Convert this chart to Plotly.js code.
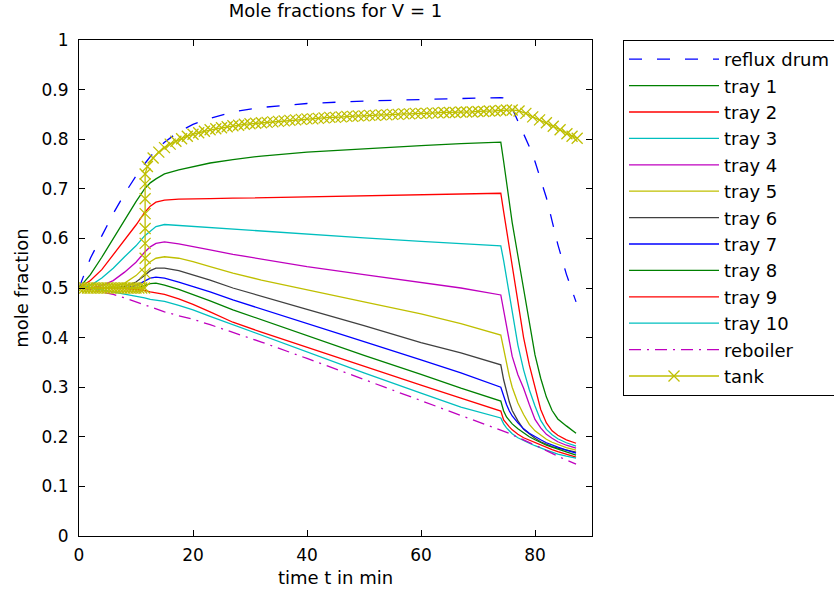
<!DOCTYPE html>
<html><head><meta charset="utf-8">
<script src="https://cdn.plot.ly/plotly-3.0.1.min.js"></script>
<style>html,body{margin:0;padding:0;background:#fff}</style>
</head><body><div id="chart" style="width:834px;height:596px"></div>
<script>
// shared time grid (min) for column series
const time = [0,2,4,6,8,10,11.5,12.5,13.5,15,17.5,20,23,27,32,40,50,60,67,74,74.5,75,75.5,76,77,78,79,80,81,82,83,84,85.5,87.2];
const refluxDrum = [0.5,0.56,0.605,0.65,0.69,0.726,0.75,0.765,0.777,0.794,0.815,0.83,0.842,0.855,0.864,0.872,0.877,0.88,0.883,0.884,0.883,0.88,0.875,0.862,0.838,0.813,0.785,0.755,0.718,0.682,0.635,0.588,0.528,0.472];
const tray1 = [0.5,0.527,0.562,0.6,0.637,0.674,0.7,0.712,0.72,0.73,0.738,0.745,0.752,0.759,0.766,0.774,0.781,0.787,0.791,0.794,0.755,0.715,0.675,0.632,0.565,0.5,0.43,0.365,0.318,0.28,0.253,0.236,0.222,0.207];
const tray2 = [0.5,0.515,0.537,0.567,0.597,0.627,0.652,0.665,0.673,0.677,0.679,0.68,0.68,0.681,0.682,0.684,0.687,0.689,0.69,0.691,0.654,0.617,0.58,0.545,0.47,0.4,0.345,0.3,0.255,0.228,0.212,0.203,0.194,0.187];
const tray3 = [0.5,0.505,0.52,0.54,0.563,0.585,0.605,0.615,0.624,0.628,0.626,0.624,0.622,0.619,0.615,0.608,0.601,0.594,0.589,0.585,0.555,0.522,0.487,0.452,0.385,0.335,0.295,0.262,0.233,0.215,0.204,0.196,0.188,0.181];
const tray4 = [0.5,0.5,0.505,0.515,0.532,0.552,0.572,0.583,0.59,0.593,0.589,0.583,0.577,0.568,0.558,0.543,0.527,0.512,0.5,0.486,0.455,0.42,0.39,0.362,0.325,0.298,0.265,0.235,0.218,0.205,0.197,0.19,0.183,0.177];
const tray5 = [0.5,0.5,0.5,0.503,0.51,0.525,0.543,0.553,0.56,0.563,0.56,0.553,0.543,0.53,0.516,0.496,0.472,0.448,0.428,0.405,0.375,0.345,0.322,0.3,0.268,0.245,0.225,0.212,0.203,0.195,0.189,0.184,0.178,0.173];
const tray6 = [0.5,0.5,0.5,0.5,0.503,0.512,0.525,0.535,0.54,0.54,0.535,0.527,0.516,0.5,0.484,0.457,0.424,0.39,0.369,0.345,0.315,0.29,0.27,0.253,0.232,0.215,0.205,0.197,0.19,0.185,0.18,0.177,0.173,0.169];
const tray7 = [0.5,0.5,0.5,0.5,0.5,0.505,0.513,0.52,0.522,0.52,0.512,0.503,0.492,0.476,0.458,0.428,0.392,0.355,0.329,0.3,0.282,0.265,0.252,0.242,0.228,0.216,0.207,0.2,0.194,0.188,0.183,0.179,0.173,0.167];
const tray8 = [0.5,0.5,0.5,0.5,0.5,0.5,0.505,0.509,0.51,0.506,0.497,0.487,0.474,0.456,0.436,0.404,0.364,0.326,0.298,0.272,0.252,0.24,0.233,0.226,0.216,0.208,0.2,0.194,0.188,0.183,0.179,0.175,0.169,0.163];
const tray9 = [0.5,0.5,0.5,0.5,0.499,0.497,0.495,0.492,0.49,0.487,0.478,0.467,0.452,0.431,0.411,0.38,0.342,0.304,0.278,0.252,0.234,0.226,0.22,0.214,0.205,0.198,0.193,0.188,0.183,0.178,0.174,0.17,0.165,0.159];
const tray10 = [0.5,0.499,0.496,0.492,0.488,0.484,0.48,0.477,0.475,0.473,0.465,0.456,0.443,0.426,0.405,0.371,0.329,0.288,0.26,0.238,0.226,0.218,0.212,0.206,0.198,0.192,0.187,0.182,0.177,0.173,0.169,0.165,0.161,0.157];
const reboiler = [0.5,0.497,0.492,0.487,0.48,0.472,0.466,0.462,0.458,0.452,0.444,0.437,0.426,0.411,0.391,0.358,0.316,0.273,0.243,0.214,0.212,0.209,0.207,0.204,0.199,0.194,0.189,0.184,0.178,0.172,0.166,0.161,0.153,0.145];

// tank (own, denser time grid)
const tankTime = [0,0.5,1,1.5,2,2.5,3,3.5,4,4.5,5,5.5,6,6.5,7,7.5,8,8.5,9,9.5,10,10.5,11,11.5,
  11.6,11.6,11.6,11.6,11.6,11.6,11.6,11.6,
  12,13,14,15,16,17,18,19,20,21,22,23,24,25,26,27,28,29,30,31,32,33,34,35,36,37,38,39,40,41,42,43,
  44,45,46,47,48,49,50,51,52,53,54,55,56,57,58,59,60,61,62,63,64,65,66,67,68,69,70,71,72,73,74,
  75,76,77.2,78.4,79.6,80.8,82,83.2,84.4,85.6,86.5,87.4];
const tankValue = [0.5,0.5,0.5,0.5,0.5,0.5,0.5,0.5,0.5,0.5,0.5,0.5,0.5,0.5,0.5,0.5,0.5,0.5,0.5,0.5,0.5,0.5,0.5,0.5,
  0.53,0.56,0.59,0.62,0.65,0.68,0.71,0.73,
  0.745,0.762,0.774,0.783,0.79,0.796,0.801,0.806,0.81,0.813,0.816,0.819,0.821,0.823,0.825,0.827,0.828,0.83,0.831,0.832,0.833,0.834,0.835,0.836,0.837,0.838,0.839,0.84,0.841,0.841,0.842,0.843,
  0.844,0.844,0.845,0.846,0.846,0.847,0.847,0.848,0.848,0.849,0.849,0.85,0.85,0.851,0.851,0.852,0.852,0.852,0.853,0.853,0.854,0.854,0.854,0.855,0.855,0.855,0.856,0.856,0.857,0.857,0.858,
  0.859,0.859,0.857,0.852,0.845,0.839,0.833,0.826,0.819,0.811,0.806,0.802];

const seriesNames = ['reflux drum','tray 1','tray 2','tray 3','tray 4','tray 5','tray 6','tray 7','tray 8','tray 9','tray 10','reboiler'];
const seriesData = [refluxDrum,tray1,tray2,tray3,tray4,tray5,tray6,tray7,tray8,tray9,tray10,reboiler];
const colors = ['#0000ff','#008000','#ff0000','#00bfbf','#bf00bf','#bfbf00','#404040','#0000ff','#008000','#ff0000','#00bfbf','#bf00bf'];
const dashes = ['13px,15px','solid','solid','solid','solid','solid','solid','solid','solid','solid','solid','12px,6px,2px,6px'];

const traces = seriesData.map((y,i)=>({
  x: time, y: y, name: seriesNames[i], type:'scatter', mode:'lines',
  line:{color:colors[i], width:1.3, dash:dashes[i]}
}));
traces.push({
  x: tankTime, y: tankValue, name:'tank', type:'scatter', mode:'lines+markers',
  line:{color:'#bfbf00', width:1.3},
  marker:{symbol:'x-thin', size:11, color:'#bfbf00', line:{color:'#bfbf00', width:1.3}}
});

const fam = '"DejaVu Sans", "Liberation Sans", Arial, sans-serif';
const txt = {family:fam, size:18, color:'#000'};
const axisCommon = {
  ticks:'inside', ticklen:6, tickcolor:'#000', tickwidth:1,
  showline:true, linecolor:'#000', linewidth:1, mirror:'ticks',
  showgrid:false, zeroline:false, tickfont:{family:fam, size:17, color:'#000'}
};
const layout = {
  width:834, height:596,
  margin:{l:79, r:242, t:40, b:60, autoexpand:false},
  paper_bgcolor:'#fff', plot_bgcolor:'#fff',
  font:txt,
  showlegend:true,
  title:{text:'Mole fractions for V = 1', xref:'paper', x:0.5, xanchor:'center',
         yref:'container', y:1-11/596, yanchor:'middle', font:txt},
  xaxis:Object.assign({}, axisCommon, {range:[0,90], tickvals:[0,20,40,60,80], ticklabelstandoff:4,
         title:{text:'time t in min', font:txt, standoff:6}}),
  yaxis:Object.assign({}, axisCommon, {range:[0,1], dtick:0.1, tick0:0, ticklabelstandoff:6,
         title:{text:'mole fraction', font:txt, standoff:8}}),
  legend:{x:(623-79)/513, xanchor:'left', y:1, yanchor:'top', bordercolor:'#000', borderwidth:1,
          bgcolor:'#fff', font:txt, itemwidth:90}
};
Plotly.newPlot('chart', traces, layout, {staticPlot:true});
</script></body></html>
